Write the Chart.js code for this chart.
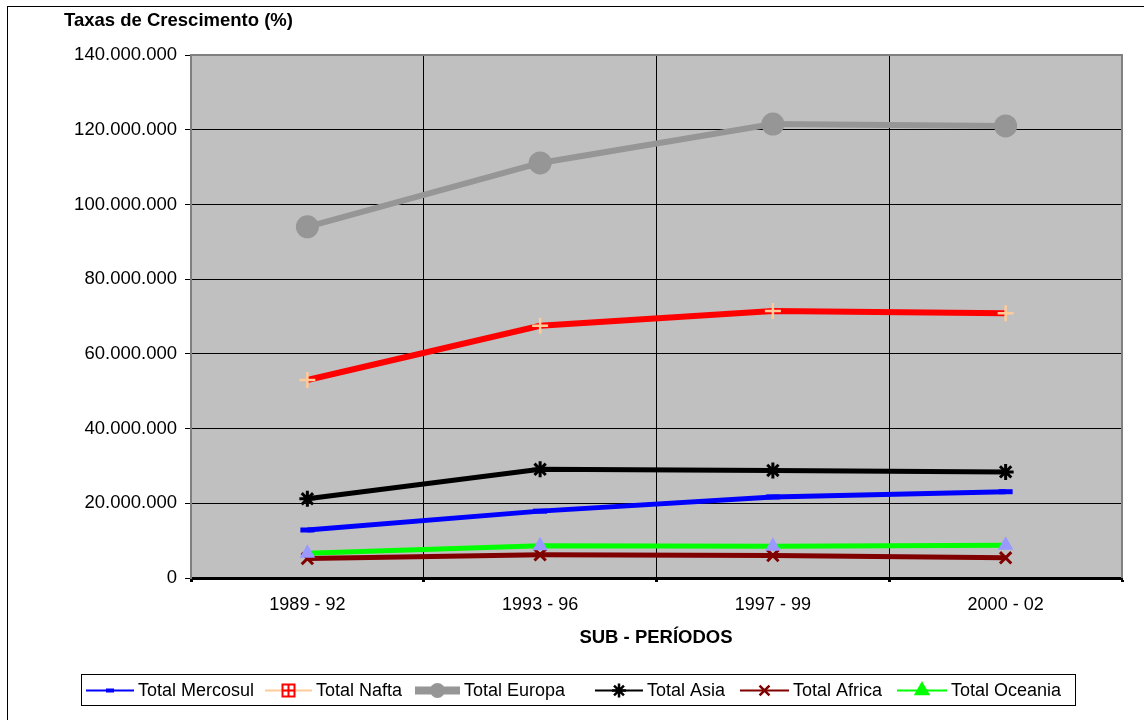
<!DOCTYPE html>
<html>
<head>
<meta charset="utf-8">
<title>Taxas de Crescimento</title>
<script src="https://cdn.jsdelivr.net/npm/chart.js@4"></script>
<style>
    html, body { margin: 0; padding: 0; background: #fff; }
    #wrap { position: relative; width: 1144px; height: 720px; }
</style>
</head>
<body>
<div id="wrap"><canvas id="chart" width="1144" height="720"></canvas></div>
<script>
// Data
const periods = ['1989 - 92', '1993 - 96', '1997 - 99', '2000 - 02'];
const mercosul = [12850000, 17900000, 21700000, 23100000];
const nafta = [53000000, 67500000, 71500000, 70900000];
const europa = [94000000, 111100000, 121500000, 121000000];
const asia = [21200000, 29100000, 28800000, 28400000];
const africa = [5200000, 6200000, 6000000, 5400000];
const oceania = [6600000, 8600000, 8500000, 8800000];
const yTicks = [0, 20000000, 40000000, 60000000, 80000000, 100000000, 120000000, 140000000];

const FONT = "'Liberation Sans', Arial, sans-serif";

function fmt(v) {
    return String(v).replace(/\B(?=(\d{3})+(?!\d))/g, '.');
}

/**
 * Background, frame, titles and an Excel-like legend
 */
const decor = {
    id: 'decor',
    beforeDraw(chart) {
        const { ctx, chartArea: a } = chart;
        ctx.save();
        ctx.fillStyle = '#fff';
        ctx.fillRect(0, 0, chart.width, chart.height);
        ctx.strokeStyle = '#000';
        ctx.lineWidth = 1;
        ctx.strokeRect(7.5, 6.5, 1160, 800);
        ctx.fillStyle = '#C0C0C0';
        ctx.fillRect(a.left, a.top, a.right - a.left, a.bottom - a.top);
        ctx.restore();
    },
    beforeDatasetsDraw(chart) {
        const { ctx, chartArea: a } = chart;
        ctx.save();
        ctx.strokeStyle = '#808080';
        ctx.lineWidth = 2;
        ctx.beginPath();
        ctx.moveTo(a.left, a.top);
        ctx.lineTo(a.right, a.top);
        ctx.lineTo(a.right, a.bottom);
        ctx.stroke();
        ctx.restore();
    },
    afterDraw(chart) {
        const { ctx } = chart;
        ctx.save();
        ctx.fillStyle = '#000';
        ctx.textBaseline = 'middle';
        ctx.font = 'bold 18.5px ' + FONT;
        ctx.textAlign = 'left';
        ctx.fillText('Taxas de Crescimento (%)', 64, 21);
        ctx.textAlign = 'center';
        ctx.fillText('SUB - PERÍODOS', 656, 638);

        // legend box
        ctx.strokeStyle = '#000';
        ctx.lineWidth = 1;
        ctx.strokeRect(81.5, 674.5, 994, 31);

        const y = 690.5;
        const items = [
            { x1: 86, x2: 134, text: 'Total Mercosul' },
            { x1: 265, x2: 312, text: 'Total Nafta' },
            { x1: 415, x2: 460, text: 'Total Europa' },
            { x1: 595, x2: 643, text: 'Total Asia' },
            { x1: 740, x2: 789, text: 'Total Africa' },
            { x1: 897, x2: 947, text: 'Total Oceania' }
        ];
        const lineColors = ['#0000FF', '#FFCC99', '#969696', '#000000', '#800000', '#00FF00'];
        const lineWidths = [2, 2, 8, 2, 2, 2];

        items.forEach((it, i) => {
            const cx = (it.x1 + it.x2) / 2;
            ctx.strokeStyle = lineColors[i];
            ctx.lineWidth = lineWidths[i];
            ctx.beginPath();
            ctx.moveTo(it.x1, y);
            ctx.lineTo(it.x2, y);
            ctx.stroke();

            if (i === 0) {
                ctx.fillStyle = '#0000FF';
                ctx.fillRect(cx - 4, y - 2, 8, 4);
            } else if (i === 1) {
                ctx.strokeStyle = '#FF0000';
                ctx.lineWidth = 2;
                ctx.strokeRect(cx - 6, y - 6, 12, 12);
                ctx.beginPath();
                ctx.moveTo(cx, y - 6); ctx.lineTo(cx, y + 6);
                ctx.moveTo(cx - 6, y); ctx.lineTo(cx + 6, y);
                ctx.stroke();
            } else if (i === 2) {
                ctx.fillStyle = '#969696';
                ctx.beginPath();
                ctx.arc(cx, y, 7.5, 0, Math.PI * 2);
                ctx.fill();
            } else {
                const styles = ['star', 'crossRot', 'triangle'];
                const colors = ['#000000', '#800000', '#00FF00'];
                ctx.strokeStyle = colors[i - 3];
                ctx.fillStyle = colors[i - 3];
                ctx.lineWidth = 2.5;
                Chart.helpers.drawPoint(ctx, {
                    pointStyle: styles[i - 3],
                    radius: 7,
                    rotation: 0,
                    borderWidth: 2.5
                }, cx, y);
            }

            ctx.fillStyle = '#000';
            ctx.textAlign = 'left';
            ctx.font = '18px ' + FONT;
            ctx.fillText(it.text, it.x2 + 4, y + 1);
        });
        ctx.restore();
    }
};

function series(label, data, color, width, point, order) {
    return Object.assign({
        label: label,
        data: data,
        borderColor: color,
        borderWidth: width,
        tension: 0,
        fill: false,
        order: order
    }, point);
}

const ctx = document.getElementById('chart').getContext('2d');
new Chart(ctx, {
    type: 'line',
    data: {
        labels: periods,
        datasets: [
            series('Total Mercosul', mercosul, '#0000FF', 5, {
                pointStyle: 'line', pointRadius: 7, pointBorderWidth: 5,
                pointBorderColor: '#0000FF', pointBackgroundColor: '#0000FF'
            }, 6),
            series('Total Nafta', nafta, '#FF0000', 6, {
                pointStyle: 'cross', pointRadius: 8, pointBorderWidth: 2.5,
                pointBorderColor: '#FFCC99', pointBackgroundColor: '#FFCC99'
            }, 5),
            series('Total Europa', europa, '#969696', 6, {
                pointStyle: 'circle', pointRadius: 11.5, pointBorderWidth: 0,
                pointBorderColor: '#969696', pointBackgroundColor: '#969696'
            }, 4),
            series('Total Asia', asia, '#000000', 5, {
                pointStyle: 'star', pointRadius: 8, pointBorderWidth: 3,
                pointBorderColor: '#000000', pointBackgroundColor: '#000000'
            }, 3),
            series('Total Africa', africa, '#800000', 5, {
                pointStyle: 'crossRot', pointRadius: 8, pointBorderWidth: 3,
                pointBorderColor: '#800000', pointBackgroundColor: '#800000'
            }, 2),
            series('Total Oceania', oceania, '#00FF00', 5, {
                pointStyle: 'triangle', pointRadius: 9, pointBorderWidth: 0,
                pointBorderColor: '#9999FF', pointBackgroundColor: '#9999FF'
            }, 1)
        ]
    },
    options: {
        responsive: false,
        animation: false,
        devicePixelRatio: 1,
        layout: { padding: { top: 55, right: 22, left: 0, bottom: 0 } },
        plugins: {
            legend: { display: false },
            title: { display: false },
            tooltip: { enabled: false }
        },
        scales: {
            x: {
                offset: true,
                afterFit(scale) { scale.height = 142; },
                grid: {
                    offset: true,
                    color: '#000',
                    lineWidth: 1,
                    tickLength: 4,
                    tickWidth: 3,
                    tickColor: '#000'
                },
                border: { color: '#000', width: 3 },
                ticks: {
                    color: '#000',
                    padding: 12,
                    font: { family: FONT, size: 18 },
                    maxRotation: 0
                }
            },
            y: {
                min: 0,
                max: 140000000,
                afterFit(scale) { scale.width = 191; },
                afterBuildTicks(scale) {
                    scale.ticks = yTicks.map(v => ({ value: v }));
                },
                grid: {
                    color: '#000',
                    lineWidth: 1,
                    tickLength: 6,
                    tickColor: '#000'
                },
                border: { color: '#808080', width: 2 },
                ticks: {
                    color: '#000',
                    padding: 8,
                    font: { family: FONT, size: 18.5 },
                    callback: v => fmt(v)
                }
            }
        }
    },
    plugins: [decor]
});
</script>
</body>
</html>
